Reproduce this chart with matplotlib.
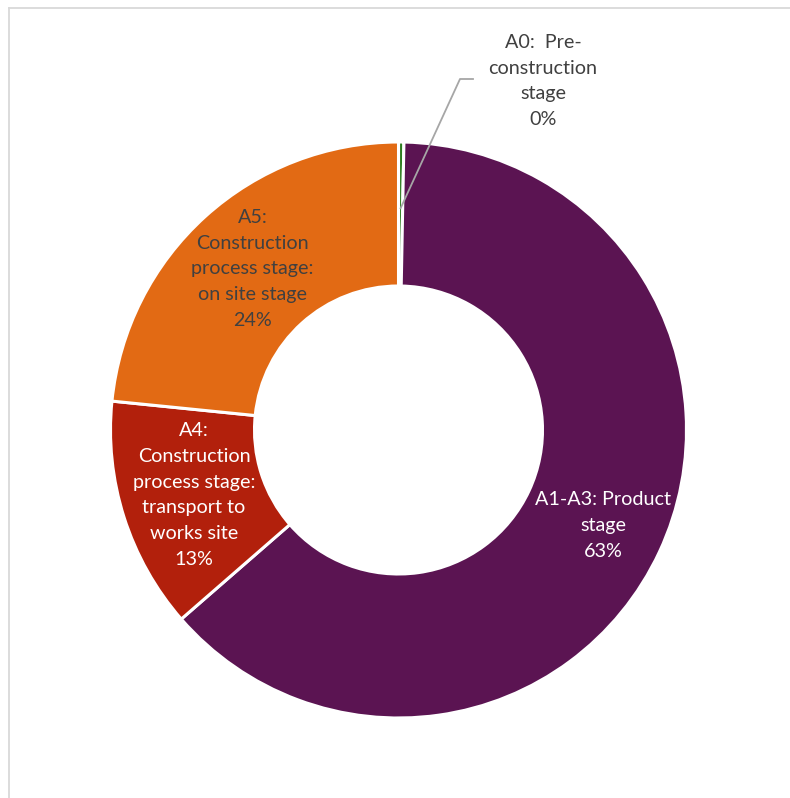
import numpy as np
import matplotlib
matplotlib.use("Agg")
import matplotlib.pyplot as plt

labels = ["A0:  Pre-\nconstruction\nstage", "A1-A3: Product\nstage",
          "A4:\nConstruction\nprocess stage:\ntransport to\nworks site",
          "A5:\nConstruction\nprocess stage:\non site stage"]
values = [0.3, 63.3, 13.0, 23.4]
pct_labels = ["0%", "63%", "13%", "24%"]
colors = ["#2E7D1F", "#5B1452", "#B2200C", "#E26A14"]
text_colors = ["#404040", "white", "white", "#404040"]
label_r = [None, 0.785, 0.745, 0.755]

W, H = 790, 798
fig = plt.figure(figsize=(W / 100, H / 100), dpi=100)
ax = fig.add_axes([0, 0, 1, 1])
cx, cy, R = 398.5, 430.0, 288.0

font = ["Lato", "DejaVu Sans"]
fs = 14.2
ls = 1.62

wedges, _ = ax.pie(values, colors=colors, startangle=90, counterclock=False,
                   radius=1.0, wedgeprops=dict(width=0.5, edgecolor="white", linewidth=2.2))
ax.set_aspect("auto")
ax.set_xlim(-cx / R, (W - cx) / R)
ax.set_ylim(-(H - cy) / R, cy / R)
ax.axis("off")

for i, w in enumerate(wedges):
    mid = np.deg2rad((w.theta1 + w.theta2) / 2)
    txt = labels[i] + "\n" + pct_labels[i]
    if i == 0:
        x0, y0 = np.cos(mid) * 0.77, np.sin(mid) * 0.77
        lx, ly = (460 - cx) / R, (cy - 79) / R
        ax.plot([x0, lx, lx + 13 / R], [y0, ly, ly], color="#A6A6A6", lw=1.3)
        ax.text((543 - cx) / R, (cy - 81) / R, txt, ha="center", va="center",
                color=text_colors[i], fontsize=fs, family=font, linespacing=ls)
    else:
        r = label_r[i]
        ax.text(r * np.cos(mid), r * np.sin(mid), txt, ha="center", va="center",
                color=text_colors[i], fontsize=fs, family=font, linespacing=ls)

# chart frame (left & top borders visible)
fig.add_artist(plt.Line2D([8.5 / W, 8.5 / W], [0, 1 - 7.5 / H], color="#D9D9D9", lw=1.3,
                          transform=fig.transFigure))
fig.add_artist(plt.Line2D([8.5 / W, 1], [1 - 7.5 / H, 1 - 7.5 / H], color="#D9D9D9", lw=1.3,
                          transform=fig.transFigure))

fig.savefig("out.png", dpi=100, facecolor="white")
